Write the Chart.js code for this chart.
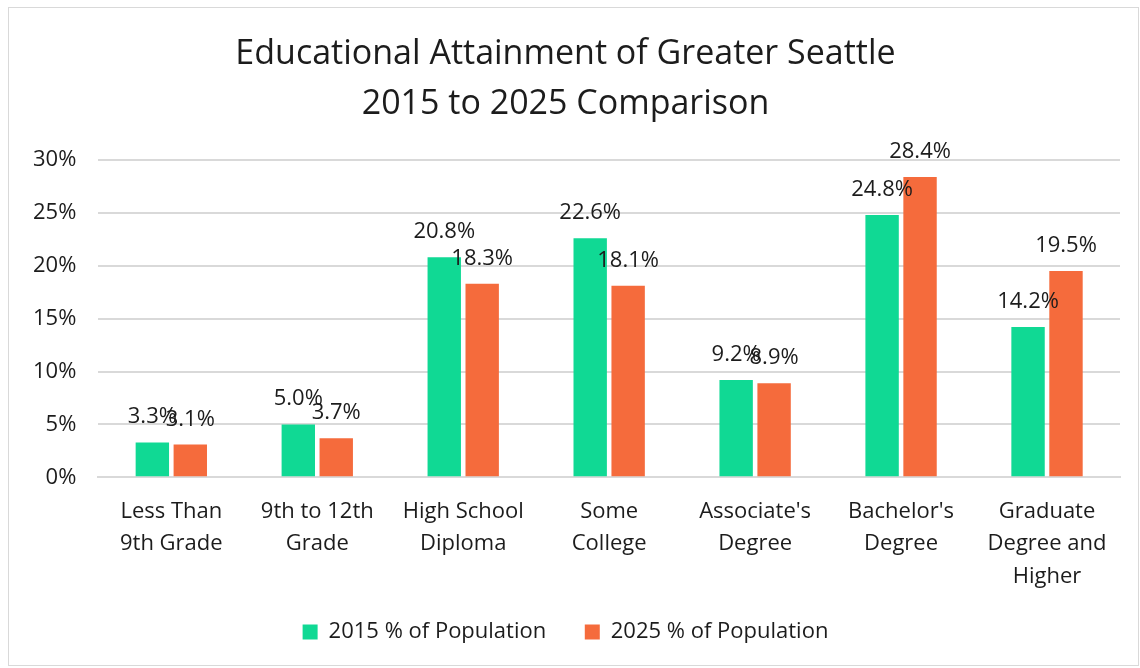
<!DOCTYPE html>
<html lang="en">
<head>
<meta charset="UTF-8">
<title>Educational Attainment of Greater Seattle</title>
<style>
  html, body { margin: 0; padding: 0; background: #fff; }
  #wrap { position: absolute; left: 0; top: 0; width: 1140px; height: 668px; }
</style>
</head>
<body>
<div id="wrap"><canvas id="myChart"></canvas></div>

<script src="https://cdn.jsdelivr.net/npm/chart.js"></script>
<script>
// data
const categories = [
  ['Less Than', '9th Grade'],
  ['9th to 12th', 'Grade'],
  ['High School', 'Diploma'],
  ['Some', 'College'],
  ["Associate's", 'Degree'],
  ["Bachelor's", 'Degree'],
  ['Graduate', 'Degree and', 'Higher']
]
const pop2015 = [3.3, 5.0, 20.8, 22.6, 9.2, 24.8, 14.2]
const pop2025 = [3.1, 3.7, 18.3, 18.1, 8.9, 28.4, 19.5]
const seriesNames = ['2015 % of Population', '2025 % of Population']
const yTicks = [0, 5, 10, 15, 20, 25, 30]

const FONT = '"Open Sans", Lato, sans-serif'
const TEXT = '#1c1c1c'

// value labels above each bar
const barLabels = {
  id: 'barLabels',
  afterDatasetsDraw(chart) {
    const ctx = chart.ctx
    ctx.save()
    ctx.font = '22px ' + FONT
    ctx.fillStyle = TEXT
    ctx.textAlign = 'center'
    ctx.textBaseline = 'alphabetic'
    chart.data.datasets.forEach((ds, i) => {
      chart.getDatasetMeta(i).data.forEach((bar, j) => {
        ctx.fillText(ds.data[j].toFixed(1) + '%', bar.x, bar.y - 19)
      })
    })
    ctx.restore()
  }
}

// thin grey frame round the whole chart
const frame = {
  id: 'frame',
  beforeDraw(chart) {
    const ctx = chart.ctx
    ctx.save()
    ctx.strokeStyle = '#d9d9d9'
    ctx.lineWidth = 1
    ctx.strokeRect(8.5, 7.5, chart.width - 10, chart.height - 10)
    ctx.restore()
  }
}

const ctx = document.getElementById('myChart')
const myChart = new Chart(ctx, {
  type: 'bar',
  data: {
    labels: categories,
    datasets: [{
      label: seriesNames[0],
      data: pop2015,
      backgroundColor: '#10d994'
    }, {
      label: seriesNames[1],
      data: pop2025,
      backgroundColor: '#f56b3c'
    }]
  },
  options: {
    responsive: true,
    maintainAspectRatio: false,
    animation: false,
    layout: { padding: { top: 27, left: 11, right: 20, bottom: 15 } },
    datasets: { bar: { categoryPercentage: 0.52, barPercentage: 0.88 } },
    scales: {
      x: {
        grid: { display: false, drawTicks: false },
        border: { display: true, color: '#d9d9d9', width: 2 },
        ticks: { color: TEXT, font: { family: FONT, size: 22, lineHeight: 1.48 }, padding: 18, maxRotation: 0, autoSkip: false }
      },
      y: {
        min: 0,
        max: 30,
        afterBuildTicks(axis) { axis.ticks = yTicks.map(v => ({ value: v })) },
        grid: { color: '#d9d9d9', lineWidth: 2, drawTicks: false },
        border: { display: false },
        ticks: { color: TEXT, font: { family: FONT, size: 22 }, padding: 22, callback: v => v + '%' }
      }
    },
    plugins: {
      title: {
        display: true,
        text: ['Educational Attainment of Greater Seattle', '2015 to 2025 Comparison'],
        color: TEXT,
        font: { family: FONT, size: 34, weight: 'normal', lineHeight: 1.47 },
        padding: { top: 2, bottom: 31 }
      },
      legend: {
        position: 'bottom',
        labels: {
          color: TEXT,
          font: { family: FONT, size: 22 },
          boxWidth: 15,
          boxHeight: 15,
          padding: 10,
          // wider gap between the two entries, as in the reference
          generateLabels(chart) {
            const items = Chart.defaults.plugins.legend.labels.generateLabels(chart)
            items.forEach((it, i) => { if (i < items.length - 1) it.text += '     ' })
            return items
          }
        }
      },
      tooltip: { enabled: false }
    }
  },
  plugins: [barLabels, frame]
})
</script>
</body>
</html>
